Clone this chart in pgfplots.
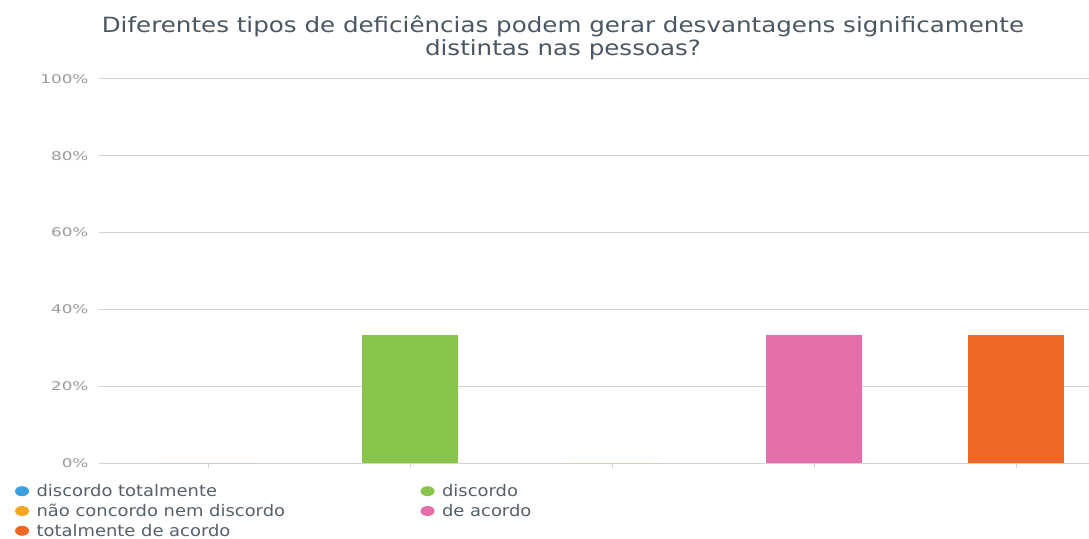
\documentclass[border=0pt]{standalone}
\usepackage{pgfplots}
\pgfplotsset{compat=1.18}
\usepackage{fontspec}
\setmainfont{DejaVu Sans}
\newfontfamily\titlefont[FakeStretch=1.3]{DejaVu Sans Condensed}
\newfontfamily\tickfont[FakeStretch=1.4]{DejaVu Sans}
\newfontfamily\legfont[FakeStretch=1.12]{DejaVu Sans}
\definecolor{cblue}{HTML}{3A9FDE}
\definecolor{cyellow}{HTML}{F5A623}
\definecolor{cgreen}{HTML}{88C34A}
\definecolor{cpink}{HTML}{E56EAA}
\definecolor{corange}{HTML}{EE6724}
\definecolor{titlegray}{HTML}{4A5661}
\definecolor{leggray}{HTML}{55606A}
\definecolor{tickgray}{HTML}{9A9A9A}
\definecolor{gridgray}{HTML}{D2D2D2}
\pgfplotsset{dotlegend/.style={legend image code/.code={\fill[##1] (3pt,0pt) ellipse (7pt and 5pt);}}}
\begin{document}
\begin{tikzpicture}[x=1pt,y=1pt]
\path[use as bounding box] (0,0) rectangle (1089,538);
\node[align=center, font=\titlefont\fontsize{21}{23}\selectfont, text=titlegray] at (563,500) {Diferentes tipos de deficiências podem gerar desvantagens significamente\\distintas nas pessoas?};
\begin{axis}[
  at={(99pt,75pt)}, anchor=south west,
  scale only axis, width=990pt, height=384pt,
  ymin=0, ymax=100, xmin=-0.54, xmax=4.36,
  ytick={0,20,...,100},
  yticklabel={\pgfmathprintnumber{\tick}\%},
  /pgf/number format/assume math mode=true,
  yticklabel style={font=\tickfont\fontsize{12}{14}\selectfont, text=tickgray, xshift=-2pt},
  ymajorgrids, grid style={gridgray, line width=1pt},
  axis line style={draw=none},
  xtick={0,1,2,3,4}, xticklabels={}, xtick pos=bottom, tick align=outside,
  major tick length=5pt, x tick style={gridgray, line width=0.8pt},
  ytick style={draw=none},
  ybar, bar width=96pt, bar shift=0pt,
  legend columns=2,
  legend style={draw=none, fill=none, at={(-0.088,-0.046)}, anchor=north west,
    font=\legfont\fontsize{16}{17}\selectfont, text=leggray,
    row sep=3pt, nodes={inner sep=1.5pt},
    /tikz/every odd column/.append style={column sep=6pt},
    /tikz/every even column/.append style={column sep=134pt}},
  legend cell align=left,
]
\addplot[fill=cblue, draw=none, dotlegend] coordinates {(0,0)};
\addlegendentry{discordo totalmente}
\addplot[fill=cgreen, draw=none, dotlegend] coordinates {(1,33.33)};
\addlegendentry{discordo}
\addplot[fill=cyellow, draw=none, dotlegend] coordinates {(2,0)};
\addlegendentry{não concordo nem discordo}
\addplot[fill=cpink, draw=none, dotlegend] coordinates {(3,33.33)};
\addlegendentry{de acordo}
\addplot[fill=corange, draw=none, dotlegend] coordinates {(4,33.33)};
\addlegendentry{totalmente de acordo}
\end{axis}
\end{tikzpicture}
\end{document}
